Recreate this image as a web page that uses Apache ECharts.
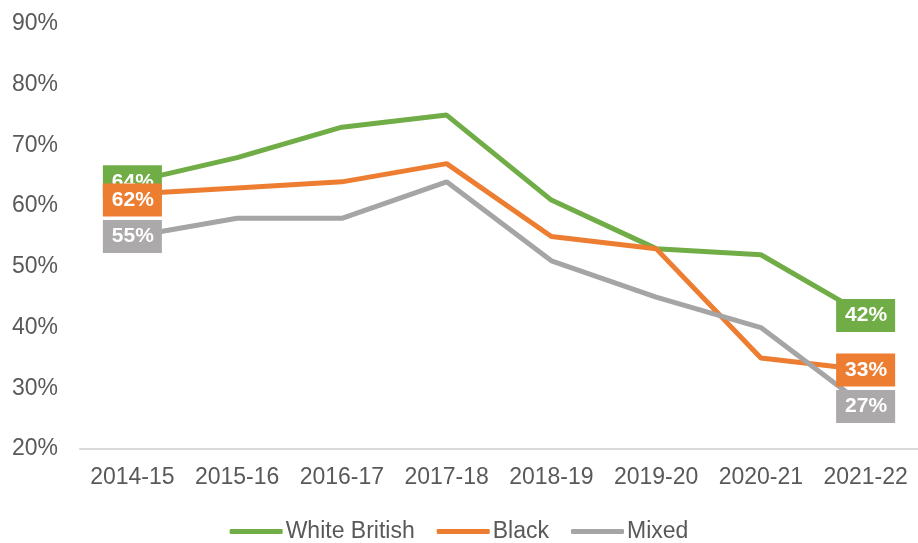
<!DOCTYPE html>
<html>
<head>
<meta charset="utf-8">
<script src="https://cdn.jsdelivr.net/npm/echarts@6/dist/echarts.min.js"></script>
<style>
  html, body { margin: 0; padding: 0; background: #fff; }
  #chart { width: 918px; height: 543px; }
</style>
</head>
<body>
<div id="chart"></div>
<script>
// School years on the category axis
const years = ['2014-15', '2015-16', '2016-17', '2017-18', '2018-19', '2019-20', '2020-21', '2021-22'];

// Percentage values per ethnic group
const whiteBritish = [64, 68, 73, 75, 61, 53, 52, 42];
const black = [62, 63, 64, 67, 55, 53, 35, 33];
const mixed = [55, 58, 58, 64, 51, 45, 40, 27];

// Value axis range and step (percent)
const yMin = 20;
const yMax = 90;
const yStep = 10;

const FONT = '"Liberation Sans", Arial, sans-serif';
const TEXT = '#595959';

// Show a tag only on the first and last point of each line;
// the tag is centred on the point, shifted by the given pixel offset
function endLabels(values, firstShift) {
  const last = values.length - 1;
  return values.map((v, i) => {
    if (i !== 0 && i !== last) return v;
    const shift = i === 0 ? firstShift : [0, 0];
    return {
      value: v,
      label: { show: true, position: shift }
    };
  });
}

function lineSeries(name, values, color, tagColor, firstShift) {
  return {
    name: name,
    type: 'line',
    data: endLabels(values, firstShift),
    symbol: 'circle',
    symbolSize: 0,
    showSymbol: true,
    lineStyle: { color: color, width: 5 },
    itemStyle: { color: color },
    label: {
      show: false,
      align: 'center',
      verticalAlign: 'middle',
      formatter: '{c}%',
      color: '#fff',
      fontFamily: FONT,
      fontWeight: 'bold',
      fontSize: 21,
      lineHeight: 21,
      backgroundColor: tagColor,
      padding: [6, 8, 6, 9]
    },
    labelLayout: { hideOverlap: false },
    emphasis: { disabled: true },
    animation: false
  };
}

const chart = echarts.init(document.getElementById('chart'), null, { renderer: 'canvas' });

chart.setOption({
  backgroundColor: '#ffffff',
  animation: false,
  grid: { left: 80, right: -5, top: 24, bottom: 94, containLabel: false },
  legend: {
    bottom: -5,
    left: 'center',
    icon: 'roundRect',
    itemWidth: 53,
    itemHeight: 5,
    itemGap: 22,
    textStyle: { fontFamily: FONT, fontSize: 23, color: TEXT, padding: [0, 0, 0, -2] },
    data: ['White British', 'Black', 'Mixed']
  },
  xAxis: {
    type: 'category',
    data: years,
    boundaryGap: true,
    axisLine: { show: true, lineStyle: { color: '#D9D9D9', width: 2 } },
    axisTick: { show: false },
    axisLabel: { interval: 0, fontFamily: FONT, fontSize: 23, color: TEXT, margin: 17 },
    splitLine: { show: false }
  },
  yAxis: {
    type: 'value',
    min: yMin,
    max: yMax,
    interval: yStep,
    axisLine: { show: false },
    axisTick: { show: false },
    splitLine: { show: false },
    axisLabel: { fontFamily: FONT, fontSize: 23, color: TEXT, margin: 22, formatter: '{value}%' }
  },
  series: [
    lineSeries('White British', whiteBritish, '#70AD47', '#70AD47', [0, 0]),
    lineSeries('Black', black, '#ED7D31', '#ED7D31', [0, 6]),
    lineSeries('Mixed', mixed, '#A5A5A5', '#ABA9A9', [0, 0])
  ]
});
</script>
</body>
</html>
